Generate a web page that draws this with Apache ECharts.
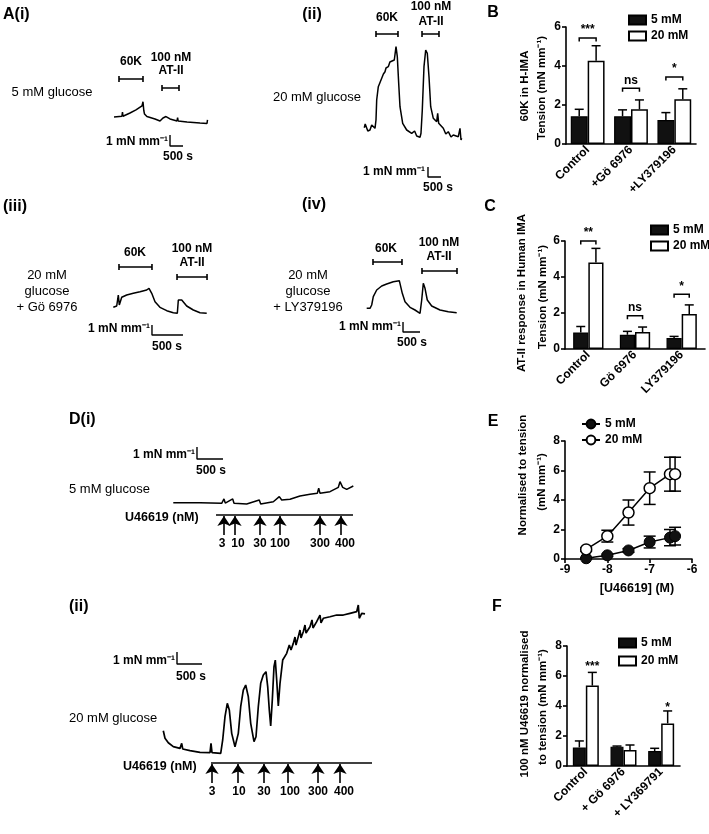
<!DOCTYPE html>
<html><head><meta charset="utf-8">
<script src="https://cdn.jsdelivr.net/npm/echarts@6/dist/echarts.min.js"></script>
<style>html,body{margin:0;padding:0;background:#fff;}.p{position:absolute;left:0;top:0;width:709px;height:834px;}</style>
</head><body>
<div id="traces" class="p"></div>
<div id="cB" class="p"></div>
<div id="cC" class="p"></div>
<div id="cE" class="p"></div>
<div id="cF" class="p"></div>
<script>
// ---------------- DATA ----------------
// Panel B: 60K response (mN mm-1)
const catsB = ['Control', '+Gö 6976', '+LY379196'];
const b5mM = [1.42, 1.42, 1.23];
const b5mMErr = [0.36, 0.33, 0.38];
const b20mM = [4.27, 1.78, 2.30];
const b20mMErr = [0.77, 0.48, 0.53];
const bSig = ['***', 'ns', '*'];
const bSigLevel = [5.44, 2.86, 3.43];
// Panel C: AT-II response
const catsC = ['Control', 'Gö 6976', 'LY379196'];
const c5mM = [0.92, 0.79, 0.61];
const c5mMErr = [0.33, 0.19, 0.09];
const c20mM = [4.80, 0.94, 1.94];
const c20mMErr = [0.79, 0.28, 0.51];
const cSig = ['**', 'ns', '*'];
const cSigLevel = [6.0, 1.85, 3.04];
// Panel E: U46619 concentration-response
const eLogConc = [-8.5, -8, -7.5, -7, -6.52, -6.4];
const e5mM = [0.05, 0.25, 0.58, 1.15, 1.45, 1.55];
const e5mMErr = [0.04, 0.08, 0.12, 0.4, 0.55, 0.6];
const e20mM = [0.65, 1.55, 3.15, 4.8, 5.75, 5.75];
const e20mMErr = [0.12, 0.4, 0.85, 1.1, 1.15, 1.15];
// Panel F: 100 nM U46619
const catsF = ['Control', '+ Gö 6976', '+ LY369791'];
const f5mM = [1.24, 1.29, 1.0];
const f5mMErr = [0.43, 0.04, 0.18];
const f20mM = [5.36, 1.07, 2.84];
const f20mMErr = [0.88, 0.33, 0.83];
const fSig = ['***', '', '*'];
const fSigLevel = [6.64, null, 3.9];
// Traces: [time (s), tension (mN mm-1)]
const traceA1 = [[154,3.91],[460,3.98],[480,4.35],[500,3.98],[769,4.27],[1000,4.55],[1231,4.91],[1269,5.3],[1300,4.5],[1327,4.18],[1380,4.0],[1400,4.3],[1420,3.95],[1461,3.91],[1731,3.73],[1923,3.55],[2038,3.82],[2154,3.95],[2308,3.73],[2577,3.55],[2600,3.85],[2620,3.55],[2961,3.45],[3461,3.36],[3731,3.32],[3750,3.65]];
const traceA2 = [[165,5.23],[200,5.6],[258,5.5],[300,4.9],[385,5.0],[450,5.5],[512,5.33],[577,5.17],[615,6.0],[642,8.0],[704,9.33],[835,10.17],[900,10.6],[962,10.83],[1000,11.2],[1088,11.33],[1150,11.8],[1219,11.67],[1319,12.0],[1385,13.33],[1435,12.33],[1488,9.67],[1538,7.33],[1642,5.67],[1796,5.0],[1988,4.67],[2100,4.9],[2181,4.4],[2308,4.27],[2346,4.67],[2396,7.0],[2461,11.33],[2527,13.0],[2588,12.67],[2654,10.33],[2719,7.33],[2819,6.17],[2950,5.83],[2988,6.67],[3027,5.67],[3204,5.17],[3300,4.6],[3396,4.83],[3500,4.3],[3588,4.5],[3781,4.33],[3846,5.17],[3885,4.0],[3911,4.17]];
const traceA3 = [[53,3.27],[108,3.4],[134,4.5],[150,3.5],[189,4.27],[269,4.5],[376,4.67],[484,4.83],[592,5.0],[629,5.17],[673,4.67],[726,3.83],[806,3.27],[915,2.93],[1021,2.73],[1086,2.67],[1102,4.0],[1129,4.17],[1157,4.0],[1237,3.4],[1344,3.0],[1452,2.73],[1560,2.67]];
const traceA4 = [[197,3.17],[294,3.17],[344,3.5],[391,4.33],[491,5.0],[638,5.4],[785,5.6],[979,5.83],[1156,5.93],[1197,5.83],[1244,4.67],[1324,3.83],[1471,3.27],[1618,3.0],[1765,2.67],[1815,4.0],[1862,5.67],[1912,5.17],[1979,4.0],[2109,3.4],[2353,3.0],[2597,2.83],[2844,2.73]];
const traceD1 = [[63,3.11],[577,3.11],[994,3.06],[1038,3.42],[1063,3.08],[1206,3.42],[1231,3.06],[1475,3.0],[1717,3.33],[1744,3.0],[1987,3.19],[2102,3.61],[2148,3.33],[2308,3.39],[2500,3.67],[2692,3.81],[2833,3.89],[2860,4.31],[2885,3.89],[3077,4.03],[3237,4.39],[3269,4.86],[3321,4.39],[3398,4.22],[3525,4.5]];
const traceD2 = [[66,4.94],[100,4.31],[166,3.94],[266,3.61],[400,3.47],[434,3.89],[454,3.42],[600,3.28],[800,3.14],[1000,3.11],[1020,3.89],[1040,3.11],[1214,3.06],[1254,4.17],[1300,6.11],[1346,7.22],[1386,6.67],[1434,4.72],[1500,3.61],[1534,3.47],[1566,4.72],[1614,6.94],[1666,8.33],[1714,8.75],[1766,7.78],[1814,5.56],[1880,4.03],[1920,4.44],[1966,6.94],[2014,8.89],[2066,9.58],[2120,9.86],[2154,8.61],[2186,6.67],[2214,5.33],[2246,7.5],[2280,10.28],[2306,10.83],[2334,9.17],[2366,7.0],[2400,8.89],[2454,10.83],[2534,11.39],[2586,12.08],[2620,11.67],[2666,12.22],[2700,12.75],[2720,12.08],[2766,12.78],[2800,13.33],[2820,12.67],[2866,13.19],[2900,13.75],[2920,13.08],[3000,13.61],[3040,14.17],[3060,13.5],[3134,14.03],[3200,14.58],[3220,13.92],[3266,14.31],[3400,14.44],[3534,14.58],[3666,14.58],[3800,14.72],[3934,14.86],[3966,15.42],[3986,14.31],[4034,14.72],[4100,14.67]];
// Drug application periods (s)
const a1K60 = [346, 1269], a1AT2 = [2000, 2654];
const a2K60 = [615, 1461], a2AT2 = [2385, 3038];
const a3K60 = [145, 677], a3AT2 = [1081, 1565];
const a4K60 = [382, 1235], a4AT2 = [1823, 2853];
// U46619 additions
const uDoses = [3, 10, 30, 100, 300, 400];
const d1DoseTimes = [1038, 1250, 1731, 2115, 2885, 3288];
const d2DoseTimes = [1040, 1560, 2080, 2560, 3160, 3600];
const scaleTime = 500, scaleTension = 1;

// ---------------- HELPERS ----------------
const FONT = "'Liberation Sans', Arial, sans-serif";
function txt(x, y, text, o) {
  o = o || {};
  return {type:'text', x:x, y:y, rotation:o.rot||0, silent:true, z:100,
    style:{text:text, fill:'#000', fontSize:o.size||12, fontWeight:o.bold?'bold':'normal',
      fontFamily:FONT, align:o.align||'center', verticalAlign:o.va||'middle'}};
}
const axLine = {show:true, onZero:false, lineStyle:{color:'#000', width:1.6}};
const axTick = {show:true, length:4, lineStyle:{color:'#000', width:1.6}};
const axLabel = {color:'#000', fontWeight:'bold', fontSize:12, fontFamily:FONT, margin:5};

// ---------------- TRACES ----------------
const L = {
  a1:{x0:110, yb:160, w:105, h:110, spp:500/13, ppm:11},
  a2:{x0:360, yb:180, w:110, h:180, spp:500/13, ppm:10},
  a3:{x0:110, yb:340, w:105, h:90,  spp:500/31, ppm:10},
  a4:{x0:360, yb:340, w:105, h:90,  spp:500/17, ppm:10},
  d1:{x0:170, yb:540, w:190, h:100, spp:500/26, ppm:12},
  d2:{x0:160, yb:790, w:220, h:195, spp:20,     ppm:12}
};
const keys = ['a1','a2','a3','a4','d1','d2'];
const idx = {}; keys.forEach((k,i)=>idx[k]=i);
function lineS(k, data, w) {
  return {type:'line', xAxisIndex:idx[k], yAxisIndex:idx[k], data:data, symbol:'none', silent:true,
    clip:false, lineStyle:{color:'#000', width:w||1.5}, z:2};
}
function appBar(k, span, v) {
  const c = 3 / L[k].ppm;
  return lineS(k, [[span[0],v+c],[span[0],v-c],[span[0],v],[span[1],v],[span[1],v+c],[span[1],v-c]], 1.6);
}
function scaleBar(k, t, v) {
  return lineS(k, [[t, v+scaleTension],[t, v],[t+scaleTime, v]], 1.4);
}
function doseLine(k, t1, t2, v, times, low, shifts) {
  const s = lineS(k, [[t1,v],[t2,v]], 1.6);
  s.markLine = {silent:true, symbol:['none','arrow'], symbolSize:10, animation:false,
    lineStyle:{color:'#000', width:1.6, type:'solid'},
    label:{show:true, position:'start', formatter:'{b}', color:'#000', fontWeight:'bold', fontSize:12, fontFamily:FONT, distance:3},
    emphasis:{disabled:true},
    data: times.map((t,i)=>[
      {coord:[t, low], name:String(uDoses[i]), label:{offset:[shifts[i], 0]}},
      {coord:[t, v - 1/L[k].ppm]}])};
  return s;
}
const traceChart = echarts.init(document.getElementById('traces'), null, {renderer:'canvas'});
traceChart.setOption({
  animation:false,
  grid: keys.map(k=>({left:L[k].x0, top:L[k].yb-L[k].h, width:L[k].w, height:L[k].h})),
  xAxis: keys.map((k,i)=>({type:'value', gridIndex:i, min:0, max:L[k].w*L[k].spp, show:false})),
  yAxis: keys.map((k,i)=>({type:'value', gridIndex:i, min:0, max:L[k].h/L[k].ppm, show:false})),
  series: [
    lineS('a1', traceA1), appBar('a1', a1K60, 7.36), appBar('a1', a1AT2, 6.55), scaleBar('a1', 2308, 1.27),
    lineS('a2', traceA2), appBar('a2', a2K60, 14.6), appBar('a2', a2AT2, 14.6), scaleBar('a2', 2615, 0.3),
    lineS('a3', traceA3), appBar('a3', a3K60, 7.3), appBar('a3', a3AT2, 6.3), scaleBar('a3', 677, 0.5),
    lineS('a4', traceA4), appBar('a4', a4K60, 7.8), appBar('a4', a4AT2, 6.9), scaleBar('a4', 1265, 0.8),
    lineS('d1', traceD1), scaleBar('d1', 519, 6.75), doseLine('d1', 885, 3519, 2.08, d1DoseTimes, 0.42, [-2, 3, 0, 0, 0, 4]),
    lineS('d2', traceD2, 1.7), scaleBar('d2', 340, 10.5), doseLine('d2', 1020, 4240, 2.25, d2DoseTimes, 0.58, [0, 1, 0, 2, 0, 4])
  ],
  graphic: [
    txt(3, 15, 'A(i)', {bold:true, size:16, align:'left'}),
    txt(52, 92, '5 mM glucose', {size:13}),
    txt(131, 62, '60K', {bold:true}), txt(171, 58, '100 nM', {bold:true}), txt(171, 71, 'AT-II', {bold:true}),
    txt(168, 142, '1 mN mm⁻¹', {bold:true, align:'right'}), txt(178, 157, '500 s', {bold:true}),

    txt(312, 15, '(ii)', {bold:true, size:16}),
    txt(387, 18, '60K', {bold:true}), txt(431, 7, '100 nM', {bold:true}), txt(431, 22, 'AT-II', {bold:true}),
    txt(317, 97, '20 mM glucose', {size:13}),
    txt(425, 172, '1 mN mm⁻¹', {bold:true, align:'right'}), txt(438, 188, '500 s', {bold:true}),

    txt(3, 207, '(iii)', {bold:true, size:16, align:'left'}),
    txt(135, 253, '60K', {bold:true}), txt(192, 249, '100 nM', {bold:true}), txt(192, 263, 'AT-II', {bold:true}),
    txt(47, 275, '20 mM', {size:13}), txt(47, 291, 'glucose', {size:13}), txt(47, 307, '+ Gö 6976', {size:13}),
    txt(150, 329, '1 mN mm⁻¹', {bold:true, align:'right'}), txt(167, 347, '500 s', {bold:true}),

    txt(314, 205, '(iv)', {bold:true, size:16}),
    txt(386, 249, '60K', {bold:true}), txt(439, 243, '100 nM', {bold:true}), txt(439, 257, 'AT-II', {bold:true}),
    txt(308, 275, '20 mM', {size:13}), txt(308, 291, 'glucose', {size:13}), txt(308, 307, '+ LY379196', {size:13}),
    txt(401, 327, '1 mN mm⁻¹', {bold:true, align:'right'}), txt(412, 343, '500 s', {bold:true}),

    txt(69, 420, 'D(i)', {bold:true, size:16, align:'left'}),
    txt(195, 455, '1 mN mm⁻¹', {bold:true, align:'right'}), txt(211, 471, '500 s', {bold:true}),
    txt(69, 489, '5 mM glucose', {size:13, align:'left'}),
    txt(125, 518, 'U46619 (nM)', {bold:true, size:12.5, align:'left'}),

    txt(69, 607, '(ii)', {bold:true, size:16, align:'left'}),
    txt(175, 661, '1 mN mm⁻¹', {bold:true, align:'right'}), txt(191, 677, '500 s', {bold:true}),
    txt(69, 718, '20 mM glucose', {size:13, align:'left'}),
    txt(123, 767, 'U46619 (nM)', {bold:true, size:12.5, align:'left'})
  ]
});

// ---------------- BAR CHARTS ----------------
function barErr(sign, gap) {
  return function(params, api) {
    const ci = api.value(0), m = api.value(1), e = api.value(2);
    const band = api.size([1,0])[0];
    const bw = band*(1-gap)/2;
    const p = api.coord([ci, m]);
    const t = api.coord([ci, m+e]);
    const x = p[0] + sign*bw/2;
    const hw = 4.5;
    return {type:'group', children:[
      {type:'line', shape:{x1:x,y1:p[1],x2:x,y2:t[1]}, style:{stroke:'#000', lineWidth:1.5}},
      {type:'line', shape:{x1:x-hw,y1:t[1],x2:x+hw,y2:t[1]}, style:{stroke:'#000', lineWidth:1.5}}
    ]};
  };
}
function sigRender(labels, gap, bracket) {
  return function(params, api) {
    const lab = labels[params.dataIndex];
    if (!lab) return null;
    const ci = api.value(0), lvl = api.value(1);
    const band = api.size([1,0])[0];
    const bw = band*(1-gap)/2;
    const p = api.coord([ci, lvl]);
    const ch = [];
    let tx = p[0], ty = p[1];
    if (bracket) {
      const x1 = p[0]-bw/2, x2 = p[0]+bw/2, y = p[1];
      ch.push({type:'polyline', shape:{points:[[x1,y+3.5],[x1,y],[x2,y],[x2,y+3.5]]}, style:{stroke:'#000', fill:null, lineWidth:1.5}});
      ty = y - 2;
    } else { tx = p[0] + bw/2; }
    ch.push({type:'text', x:tx, y:ty, style:{text:lab, fill:'#000', fontSize:12, fontWeight:'bold', fontFamily:FONT,
      align:'center', verticalAlign: bracket ? 'bottom' : 'middle'}});
    return {type:'group', children:ch};
  };
}
function barChart(id, c) {
  const ch = echarts.init(document.getElementById(id), null, {renderer:'canvas'});
  ch.setOption({
    animation:false,
    grid:{left:c.left, top:c.top, width:c.width, height:c.height},
    legend:{orient:'vertical', left:c.legLeft, top:c.legTop, padding:0, itemWidth:17, itemHeight:9, itemGap:c.legGap,
      icon:'rect', selectedMode:false, textStyle:{color:'#000', fontWeight:'bold', fontSize:12, fontFamily:FONT},
      data:['5 mM','20 mM']},
    xAxis:{type:'category', data:c.cats, axisLine:axLine, axisTick:{show:false},
      axisLabel:Object.assign({}, axLabel, {rotate:45, interval:0, margin:4})},
    yAxis:{type:'value', min:0, max:c.max, interval:2, axisLine:axLine, axisTick:axTick, splitLine:{show:false}, axisLabel:axLabel},
    series:[
      {name:'5 mM', type:'bar', data:c.v5, barGap:'0%', barCategoryGap:(c.gap*100)+'%',
        itemStyle:{color:'#111', borderColor:'#000', borderWidth:1.2}, z:2, silent:true},
      {name:'20 mM', type:'bar', data:c.v20, barGap:'0%', barCategoryGap:(c.gap*100)+'%',
        itemStyle:{color:'#fff', borderColor:'#000', borderWidth:1.5}, z:2, silent:true},
      {type:'custom', renderItem:barErr(-1, c.gap), data:c.v5.map((v,i)=>[i, v, c.e5[i]]), encode:{x:0,y:1}, z:3, silent:true},
      {type:'custom', renderItem:barErr(1, c.gap), data:c.v20.map((v,i)=>[i, v, c.e20[i]]), encode:{x:0,y:1}, z:3, silent:true},
      {type:'custom', renderItem:sigRender(c.sig, c.gap, c.bracket), data:c.sig.map((s,i)=>[i, c.sigLevel[i] == null ? 0 : c.sigLevel[i]]), encode:{x:0,y:1}, z:4, silent:true}
    ],
    graphic:c.graphic
  });
}
barChart('cB', {left:566, top:27, width:130, height:117, max:6, gap:0.22, cats:catsB,
  v5:b5mM, e5:b5mMErr, v20:b20mM, e20:b20mMErr, sig:bSig, sigLevel:bSigLevel, bracket:true,
  legLeft:628, legTop:14, legGap:4,
  graphic:[txt(493, 13, 'B', {bold:true, size:16}),
    txt(525, 86, '60K in H-IMA', {bold:true, size:11.5, rot:Math.PI/2}),
    txt(542, 88, 'Tension (mN mm⁻¹)', {bold:true, size:11.5, rot:Math.PI/2})]});
barChart('cC', {left:565, top:241, width:140, height:108, max:6, gap:0.35, cats:catsC,
  v5:c5mM, e5:c5mMErr, v20:c20mM, e20:c20mMErr, sig:cSig, sigLevel:cSigLevel, bracket:true,
  legLeft:650, legTop:224, legGap:4,
  graphic:[txt(490, 207, 'C', {bold:true, size:16}),
    txt(522, 293, 'AT-II response in Human IMA', {bold:true, size:11.5, rot:Math.PI/2}),
    txt(543, 297, 'Tension (mN mm⁻¹)', {bold:true, size:11.5, rot:Math.PI/2})]});
barChart('cF', {left:567, top:646, width:113, height:120, max:8, gap:0.31, cats:catsF,
  v5:f5mM, e5:f5mMErr, v20:f20mM, e20:f20mMErr, sig:fSig, sigLevel:fSigLevel, bracket:false,
  legLeft:618, legTop:637, legGap:6,
  graphic:[txt(497, 607, 'F', {bold:true, size:16}),
    txt(525, 704, '100 nM U46619 normalised', {bold:true, size:11.5, rot:Math.PI/2}),
    txt(543, 707, 'to tension (mN mm⁻¹)', {bold:true, size:11.5, rot:Math.PI/2})]});

// ---------------- PANEL E ----------------
function ptErr(params, api) {
  const x = api.value(0), m = api.value(1), e = api.value(2);
  const lo = api.coord([x, m-e]), hi = api.coord([x, m+e]);
  const hw = 6;
  const st = {stroke:'#000', lineWidth:1.5};
  return {type:'group', children:[
    {type:'line', shape:{x1:lo[0],y1:lo[1],x2:hi[0],y2:hi[1]}, style:st},
    {type:'line', shape:{x1:hi[0]-hw,y1:hi[1],x2:hi[0]+hw,y2:hi[1]}, style:st},
    {type:'line', shape:{x1:lo[0]-hw,y1:lo[1],x2:lo[0]+hw,y2:lo[1]}, style:st}
  ]};
}
const chE = echarts.init(document.getElementById('cE'), null, {renderer:'canvas'});
chE.setOption({
  animation:false,
  grid:{left:565, top:441, width:127, height:118},
  legend:{orient:'vertical', left:581, top:418, padding:0, itemWidth:18, itemHeight:11, itemGap:4, selectedMode:false,
    textStyle:{color:'#000', fontWeight:'bold', fontSize:12, fontFamily:FONT}, data:['5 mM','20 mM']},
  xAxis:{type:'value', min:-9, max:-6, interval:1, axisLine:axLine, axisTick:axTick, splitLine:{show:false}, axisLabel:axLabel},
  yAxis:{type:'value', min:0, max:8, interval:2, axisLine:axLine, axisTick:axTick, splitLine:{show:false}, axisLabel:axLabel},
  series:[
    {type:'custom', renderItem:ptErr, data:eLogConc.map((x,i)=>[x, e5mM[i], e5mMErr[i]]), encode:{x:0,y:1}, z:1, silent:true},
    {type:'custom', renderItem:ptErr, data:eLogConc.map((x,i)=>[x, e20mM[i], e20mMErr[i]]), encode:{x:0,y:1}, z:1, silent:true},
    {name:'5 mM', type:'line', data:eLogConc.map((x,i)=>[x, e5mM[i]]), symbol:'circle', symbolSize:11, silent:true,
      itemStyle:{color:'#111', borderColor:'#000', borderWidth:1}, lineStyle:{color:'#000', width:1.5}, z:3},
    {name:'20 mM', type:'line', data:eLogConc.map((x,i)=>[x, e20mM[i]]), symbol:'circle', symbolSize:11, silent:true,
      itemStyle:{color:'#fff', borderColor:'#000', borderWidth:1.5}, lineStyle:{color:'#000', width:1.5}, z:3}
  ],
  graphic:[txt(493, 422, 'E', {bold:true, size:16}),
    txt(523, 475, 'Normalised to tension', {bold:true, size:11.5, rot:Math.PI/2}),
    txt(542, 482, '(mN mm⁻¹)', {bold:true, size:11.5, rot:Math.PI/2}),
    txt(637, 589, '[U46619] (M)', {bold:true, size:12.5})]
});
</script>
</body></html>
